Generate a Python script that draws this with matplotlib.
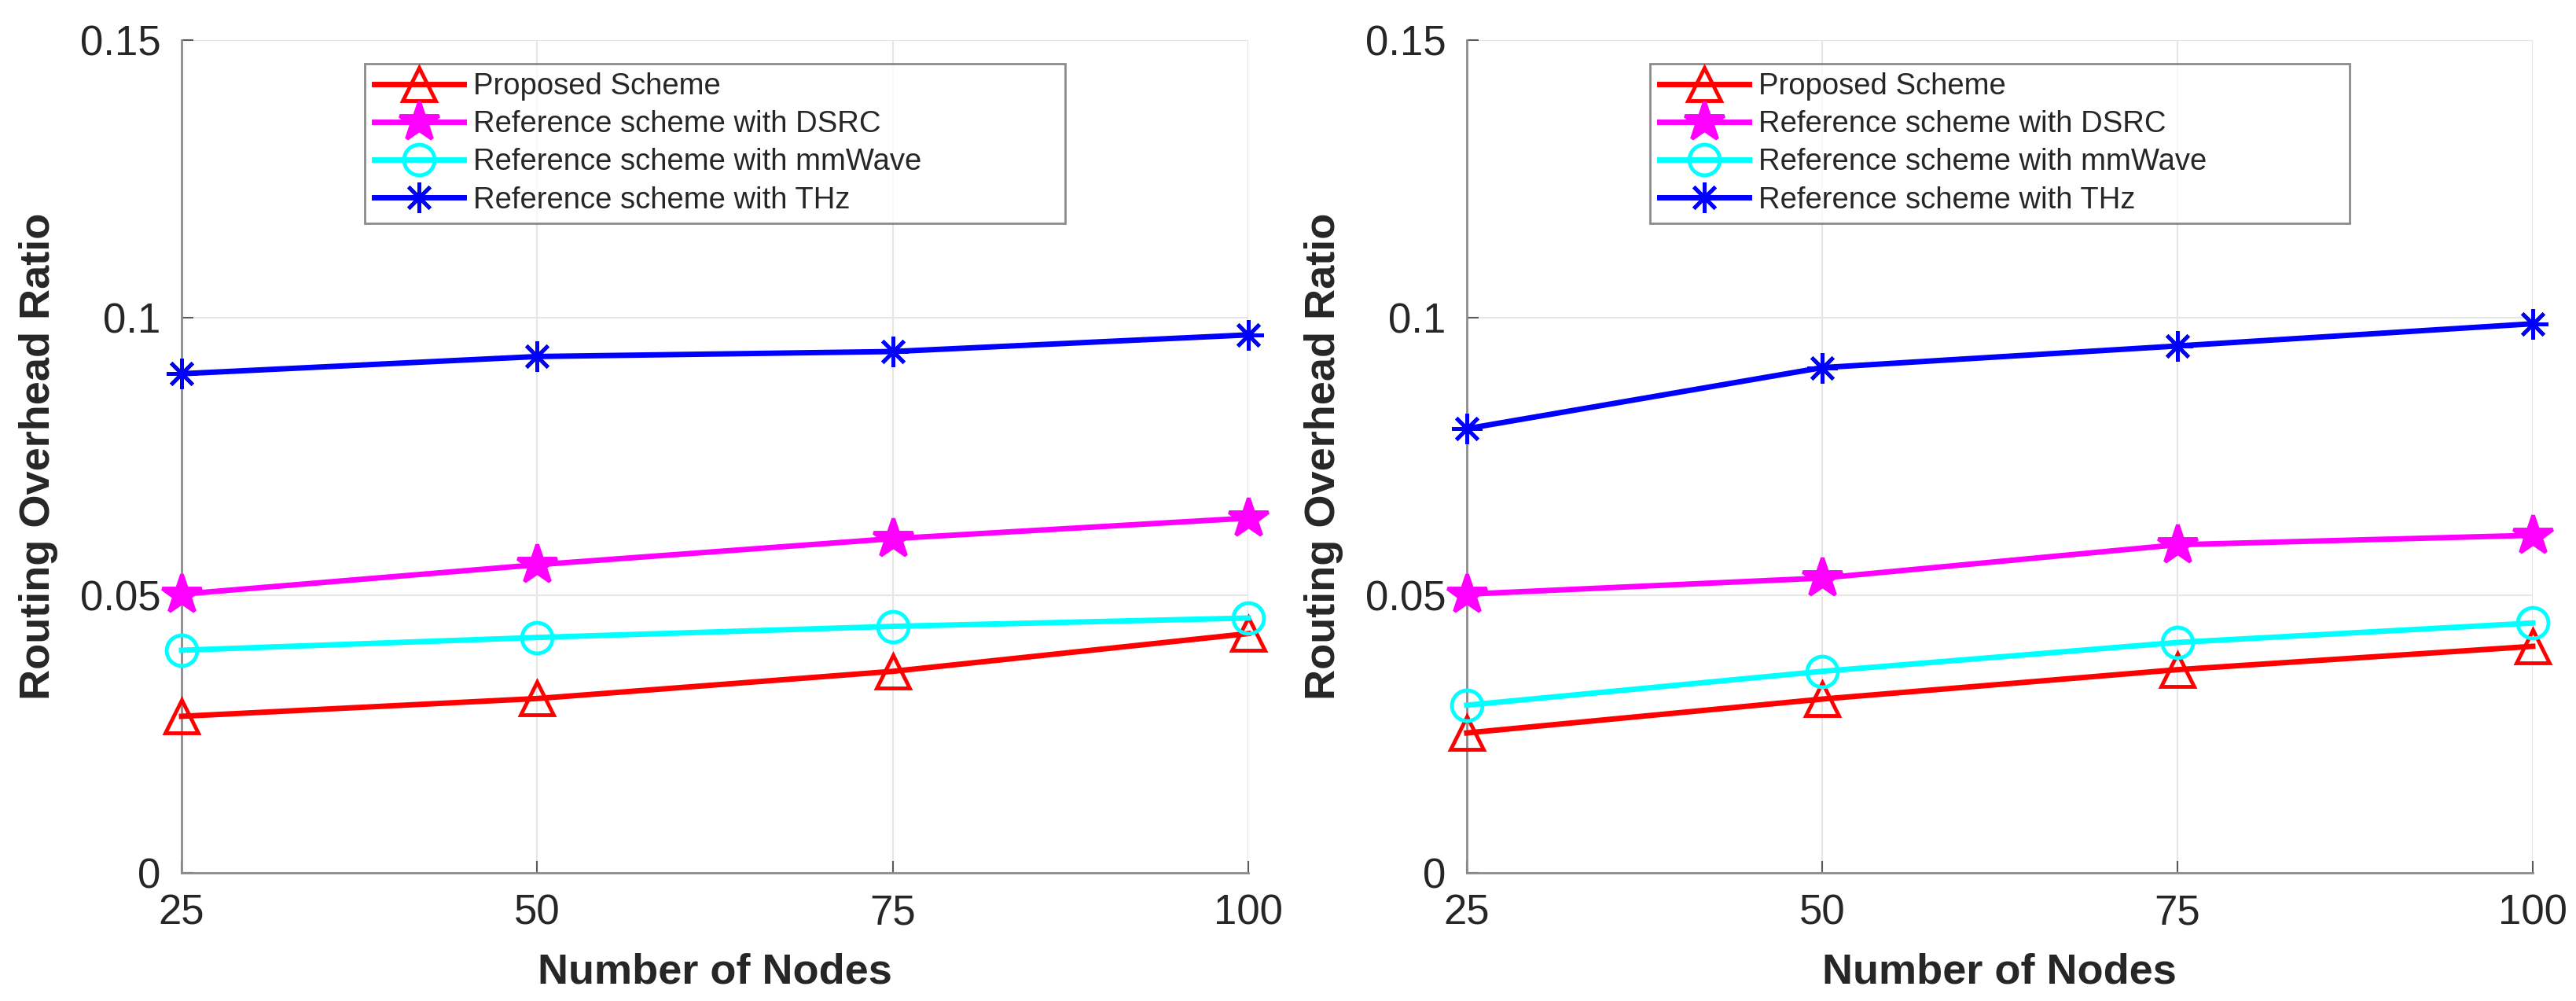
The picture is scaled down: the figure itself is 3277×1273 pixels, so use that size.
import matplotlib
matplotlib.use("Agg")
import matplotlib.pyplot as plt

plt.rcParams['font.family'] = ['Liberation Sans', 'DejaVu Sans']

# data
nodes = [25, 50, 75, 100]
labels = ['Proposed Scheme', 'Reference scheme with DSRC',
          'Reference scheme with mmWave', 'Reference scheme with THz']

# left panel
left_proposed = [0.0282, 0.0314, 0.0363, 0.0431]
left_dsrc = [0.0502, 0.0555, 0.0602, 0.0639]
left_mmwave = [0.0401, 0.0424, 0.0444, 0.0459]
left_thz = [0.0899, 0.0930, 0.0939, 0.0969]

# right panel
right_proposed = [0.0252, 0.0313, 0.0366, 0.0408]
right_dsrc = [0.0502, 0.0531, 0.0591, 0.0608]
right_mmwave = [0.0302, 0.0363, 0.0415, 0.0450]
right_thz = [0.0800, 0.0910, 0.0949, 0.0989]

yticks = [0, 0.05, 0.1, 0.15]
ytick_labels = ['0', '0.05', '0.1', '0.15']

colors = ['#ff0000', '#ff00ff', '#00ffff', '#0000ff']
markers = ['^', '*', 'o', (8, 2, 0)]
msizes = [30, 38, 28, 28]
fills = ['none', '#ff00ff', 'none', '#0000ff']

fig = plt.figure(figsize=(32.77, 12.73), dpi=100)
ax1 = fig.add_axes([0.0705, 0.128, 0.4141, 0.832])
ax2 = fig.add_axes([0.5694, 0.128, 0.4138, 0.832])

panels = [(ax1, [left_proposed, left_dsrc, left_mmwave, left_thz]),
          (ax2, [right_proposed, right_dsrc, right_mmwave, right_thz])]

for ax, series in panels:
    for vals, lab, c, m, ms, fc in zip(series, labels, colors, markers, msizes, fills):
        ax.plot(nodes, vals, color=c, lw=5, marker=m, markersize=ms,
                markerfacecolor=fc, markeredgecolor=c, markeredgewidth=3.5,
                label=lab, clip_on=False, zorder=3)

    ax.set_xlim(25, 100)
    ax.set_ylim(0, 0.15)
    ax.set_xticks(nodes)
    ax.set_yticks(yticks)
    ax.set_yticklabels(ytick_labels)
    ax.grid(True, color='#e6e6e6', lw=1.5)
    ax.set_axisbelow(True)

    # box off, only left and bottom axis lines
    ax.spines['top'].set_visible(False)
    ax.spines['right'].set_visible(False)
    for s in ['left', 'bottom']:
        ax.spines[s].set_color('#8c8c8c')
        ax.spines[s].set_linewidth(2)

    ax.tick_params(axis='both', direction='in', length=11, width=1.5,
                   color='#5a5a5a', labelsize=38, labelcolor='#262626')
    ax.tick_params(axis='x', pad=19)
    ax.tick_params(axis='y', pad=19)

    ax.set_xlabel('Number of Nodes', fontsize=39, fontweight='bold',
                  color='#262626', labelpad=18)
    ax.set_ylabel('Routing Overhead Ratio', fontsize=39, fontweight='bold',
                  color='#262626', labelpad=20)

    leg = ax.legend(loc='upper left', bbox_to_anchor=(0.172, 0.777, 0.656, 0.195),
                    mode='expand', fontsize=27.5, frameon=True, fancybox=False,
                    borderpad=0.3, labelspacing=0.32, handlelength=3.0,
                    handletextpad=0.3, borderaxespad=0)
    leg.get_frame().set_edgecolor('#6e6e6e')
    leg.get_frame().set_linewidth(2)
    for t in leg.get_texts():
        t.set_color('#262626')

fig.savefig('out.png', dpi=100)
